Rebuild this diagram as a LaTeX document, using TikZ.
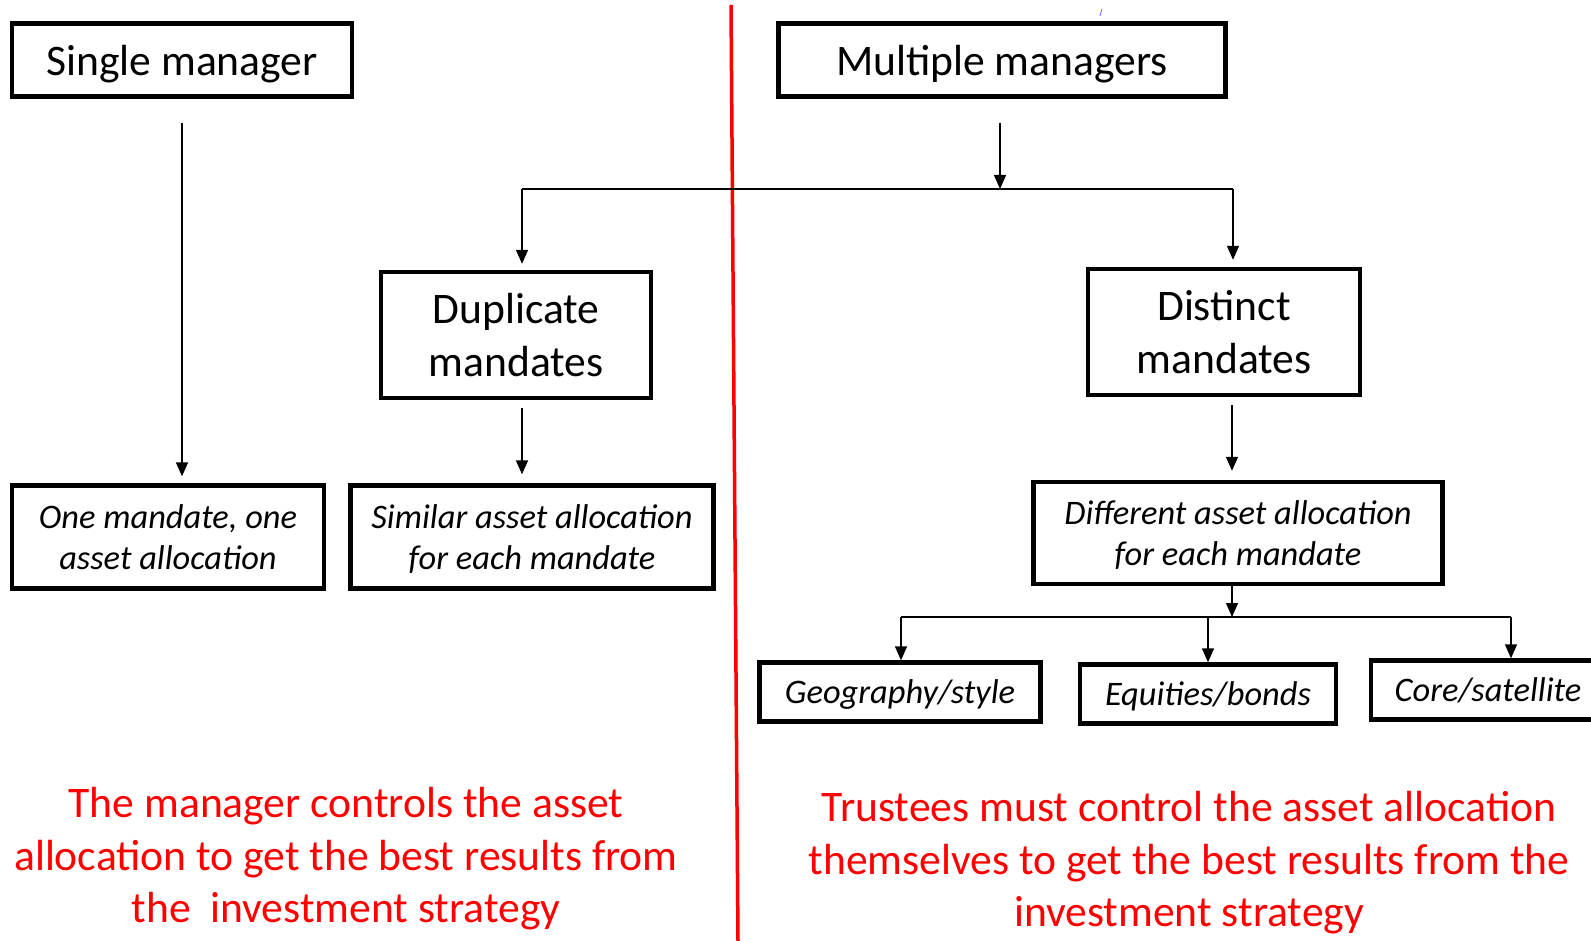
\documentclass[tikz,border=0pt]{standalone}
\usepackage{fontspec}
\setmainfont{Carlito}
\usetikzlibrary{arrows.meta}

\tikzset{
  box/.style={draw, line width=2.2pt, inner sep=0pt, text depth=0pt, align=center},
  head/.style={box, font=\fontsize{21.8}{26.3}\selectfont},
  sub/.style={box, font=\fontsize{17.2}{20.3}\selectfont\itshape},
  link/.style={line width=0.75pt},
  arr/.style={link, -{Triangle[width=6pt,length=7pt]}},
  note/.style={text=red, align=center, font=\fontsize{21.8}{26.3}\selectfont}
}

\begin{document}
\begin{tikzpicture}[x=0.5pt,y=-0.5pt]
\useasboundingbox (0,0) rectangle (1591,941);
% divider between the two cases
\draw[red, line width=1.75pt] (731,5) -- (738,941);
\draw[blue!60, line width=0.4pt] (1100,16) -- (1102,9);

% managers
\node[head, minimum width=170pt, minimum height=36.5pt] (single) at (182,60) {Single manager};
\node[head, minimum width=223.5pt, minimum height=36.5pt] (multi) at (1002,60) {Multiple managers};

% mandates
\node[head, minimum width=135pt, minimum height=63pt] (dup) at (516,335) {Duplicate\\mandates};
\node[head, minimum width=136pt, minimum height=63pt] (dist) at (1224,332) {Distinct\\mandates};

% allocations
\node[sub, minimum width=156pt, minimum height=51.5pt] (onemand) at (168,537) {One mandate, one\\asset allocation};
\node[sub, minimum width=181.5pt, minimum height=51.5pt] (similar) at (532,537) {Similar asset allocation\\for each mandate};
\node[sub, minimum width=204.5pt, minimum height=51pt] (different) at (1238,533) {Different asset allocation\\for each mandate};

% kinds of split
\node[sub, minimum width=140.5pt, minimum height=29.5pt] (geo) at (900,692) {Geography/style};
\node[sub, minimum width=128pt, minimum height=29.5pt] (equ) at (1208,694) {Equities/bonds};
\node[sub, minimum width=117pt, minimum height=29.5pt] (core) at (1488,690) {Core/satellite};

\coordinate (split) at (1000,189);
\coordinate (splitL) at (522,189);
\coordinate (splitR) at (1233,189);
\coordinate (split2) at (1232,617);
\coordinate (bl) at (901,617);
\coordinate (br) at (1511,617);

\draw[arr, shorten <=12pt, shorten >=3.5pt] (single.south) -- (single.south |- onemand.north);
\draw[arr, shorten <=12pt] (split |- multi.south) -- (split);
\draw[link] (splitL) -- (splitR);
\draw[arr, shorten >=3pt] (splitL) -- (splitL |- dup.north);
\draw[arr, shorten >=3.5pt] (splitR) -- (splitR |- dist.north);
\draw[arr, shorten <=4pt, shorten >=4.5pt] (splitL |- dup.south) -- (splitL |- similar.north);
\draw[arr, shorten <=4pt, shorten >=4.5pt] (split2 |- dist.south) -- (split2 |- different.north);
\draw[arr] (split2 |- different.south) -- (split2);
\draw[link] (bl) -- (br);
\draw[arr] (bl) -- (bl |- geo.north);
\draw[arr] (equ.north |- split2) -- (equ.north);
\draw[arr] (br) -- (br |- core.north);

% conclusions
\node[note] (mgrnote) at (346,859) {The manager controls the asset\\allocation to get the best results from\\the~~investment strategy};
\node[note] (trnote) at (1189,863) {Trustees must control the asset allocation\\themselves to get the best results from the\\investment strategy};
\end{tikzpicture}
\end{document}
